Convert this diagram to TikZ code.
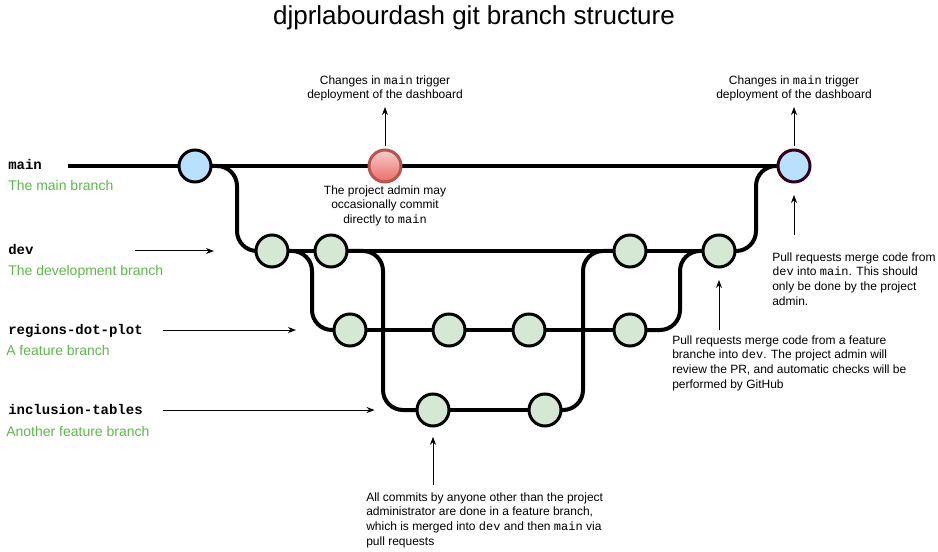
\documentclass[tikz,border=0pt]{standalone}
\usepackage{fontspec}
\setmainfont{Liberation Sans}
\setmonofont{Liberation Mono}
\usetikzlibrary{arrows.meta,backgrounds}
\definecolor{commitblue}{RGB}{185,224,255}
\definecolor{commitgreen}{RGB}{213,232,212}
\definecolor{adminred}{RGB}{184,84,80}
\definecolor{redtop}{RGB}{248,206,204}
\definecolor{redbottom}{RGB}{234,107,102}
\definecolor{mergedark}{RGB}{51,0,26}
\definecolor{labelgreen}{RGB}{93,184,74}
\begin{document}
\begin{tikzpicture}[x=0.75pt,y=-0.75pt,
    branch/.style={line width=3pt},
    commit/.style={circle,draw,line width=2.25pt,minimum size=24pt,inner sep=0pt,fill=commitgreen},
    note/.style={line width=0.75pt,-{Stealth[length=6pt,width=4.5pt]}},
    notetext/.style={font=\fontsize{9}{10.9}\selectfont,inner sep=0pt},
    branchname/.style={anchor=base west,inner sep=0pt,font=\fontsize{10.5}{12}\selectfont\ttfamily\bfseries},
    branchdesc/.style={anchor=base west,inner sep=0pt,text=labelgreen,font=\fontsize{10.5}{12}\selectfont}]
    \useasboundingbox (0,0) rectangle (938,552);
    \node[anchor=base,inner sep=0pt,font=\fontsize{19.5}{23}\selectfont] (title) at (474,25) {djprlabourdash git branch structure};

    \node[branchname] (mainname) at (8,170) {main};
    \node[branchdesc] (maindesc) at (8,191) {The main branch};
    \node[branchname] (devname) at (8,255) {dev};
    \node[branchdesc] (devdesc) at (8,276) {The development branch};
    \node[branchname] (regionsname) at (8,334) {regions-dot-plot};
    \node[branchdesc] (regionsdesc) at (6,355) {A feature branch};
    \node[branchname] (inclusionname) at (8,414) {inclusion-tables};
    \node[branchdesc] (inclusiondesc) at (6,436) {Another feature branch};

    \node[commit,fill=commitblue] (m1) at (195,166) {};
    \node[commit,draw=adminred,top color=redtop,bottom color=redbottom] (m2) at (385,166) {};
    \node[commit,draw=mergedark,fill=commitblue] (m3) at (794,166) {};
    \node[commit] (d1) at (272,251) {};
    \node[commit] (d2) at (331,251) {};
    \node[commit] (d3) at (630,251) {};
    \node[commit] (d4) at (719,251) {};
    \node[commit] (r1) at (350,330) {};
    \node[commit] (r2) at (449,330) {};
    \node[commit] (r3) at (529,330) {};
    \node[commit] (r4) at (630,330) {};
    \node[commit] (i1) at (433,410) {};
    \node[commit] (i2) at (545,410) {};

    \begin{pgfonlayer}{background}
    \coordinate (mainstart) at (68,166);
    \draw[branch] (mainstart) -- (m1.center) -- (m2.center) -- (m3.center);
    \draw[branch] (d1.center) -- (d4.center);
    \draw[branch] (r1.center) -- (r4.center);
    \draw[branch] (i1.center) -- (i2.center);
    \draw[branch,rounded corners=15pt] (m1.center) -- ++(42,0) |- (d1.center);
    \draw[branch,rounded corners=15pt] (d1.center) -- ++(40,0) |- (r1.center);
    \draw[branch,rounded corners=15pt] (d2.center) -- ++(52,0) |- (i1.center);
    \draw[branch,rounded corners=15pt] (i2.center) -- ++(38,0) |- (d3.center);
    \draw[branch,rounded corners=15pt] (r4.center) -- ++(50,0) |- (d4.center);
    \draw[branch,rounded corners=15pt] (d4.center) -- ++(37,0) |- (m3.center);
    \end{pgfonlayer}

    \coordinate (devtail) at (135,251);
    \coordinate (regionstail) at (163,330);
    \coordinate (inclusiontail) at (163,410);
    \draw[note,shorten >=30.4pt] (devtail) -- (d1);
    \draw[note,shorten >=27.4pt] (regionstail) -- (r1);
    \draw[note,shorten >=30.7pt] (inclusiontail) -- (i1);

    \node[notetext,anchor=north,align=center] (deploy1) at (385,75.5) {Changes in \texttt{main} trigger\\deployment of the dashboard};
    \node[notetext,anchor=north,align=center] (adminnote) at (385,185.5) {The project admin may\\occasionally commit\\directly to \texttt{main}};
    \node[notetext,anchor=north,align=center] (deploy2) at (794,75.5) {Changes in \texttt{main} trigger\\deployment of the dashboard};
    \node[notetext,anchor=north west,align=left] (mergemain) at (772,252.5) {Pull requests merge code from\\\texttt{dev} into \texttt{main}. This should\\only be done by the project\\admin.};
    \node[notetext,anchor=north west,align=left] (mergedev) at (672,335.5) {Pull requests merge code from a feature\\branche into \texttt{dev}. The project admin will\\review the PR, and automatic checks will be\\performed by GitHub};
    \node[notetext,anchor=north west,align=left] (featurenote) at (366,492.5) {All commits by anyone other than the project\\administrator are done in a feature branch,\\which is merged into \texttt{dev} and then \texttt{main} via\\pull requests};

    \coordinate (deploytip1) at (385,107);
    \coordinate (deploytip2) at (794,107);
    \coordinate (mergemaintail) at (794,235);
    \coordinate (mergedevtail) at (719,330);
    \coordinate (featuretail) at (433,485);
    \draw[note,shorten <=2pt] (m2) -- (deploytip1);
    \draw[note,shorten <=2pt] (m3) -- (deploytip2);
    \draw[note,shorten >=8.6pt] (mergemaintail) -- (m3);
    \draw[note,shorten >=8.6pt] (mergedevtail) -- (d4);
    \draw[note,shorten >=7pt] (featuretail) -- (i1);
\end{tikzpicture}
\end{document}
